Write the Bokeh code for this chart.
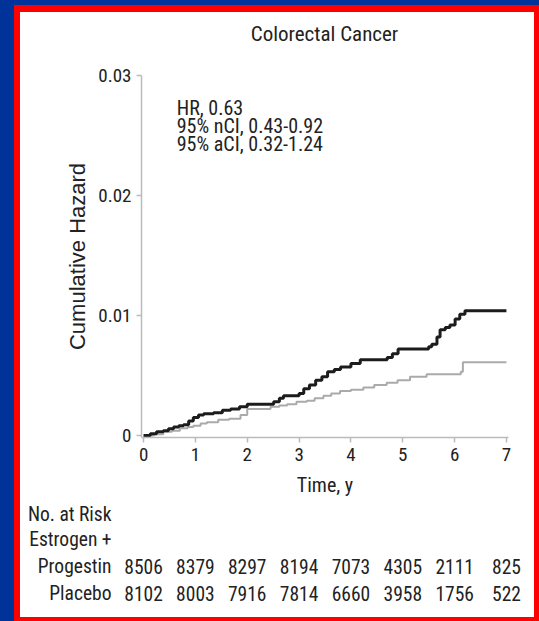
from bokeh.plotting import figure
from bokeh.models import Range1d, FixedTicker, Column
from bokeh.core.properties import value
from bokeh.embed import file_html
from bokeh.resources import INLINE

# ---------------- data ----------------
title_text = "Colorectal Cancer"
annot_lines = ["HR, 0.63", "95% nCI, 0.43-0.92", "95% aCI, 0.32-1.24"]

# Placebo (black, upper curve) cumulative hazard steps
pl_t = [0, 0.13, 0.25, 0.38, 0.48, 0.58, 0.68, 0.77, 0.87, 0.96,
        1.06, 1.16, 1.35, 1.52, 1.68, 1.85, 2.0, 2.51, 2.62, 2.7,
        3.0, 3.09, 3.2, 3.32, 3.44, 3.55, 3.68, 3.8, 4.0, 4.18,
        4.7, 4.8, 4.91, 5.5, 5.56, 5.66, 5.72, 5.82, 5.91, 6.01,
        6.1, 6.2, 7.0]
pl_v = [0, 0.00014, 0.0003, 0.0004, 0.00055, 0.0007, 0.0008, 0.0009, 0.0012, 0.0015,
        0.0017, 0.0018, 0.0019, 0.0021, 0.0022, 0.0024, 0.0026, 0.0028, 0.0031, 0.0033,
        0.0035, 0.0039, 0.0042, 0.0046, 0.0049, 0.0053, 0.0055, 0.0057, 0.0060, 0.0063,
        0.0065, 0.0068, 0.0072, 0.0074, 0.0076, 0.0082, 0.0088, 0.0090, 0.0092, 0.0097,
        0.0101, 0.0104, 0.0104]

# Estrogen + Progestin (gray, lower curve)
ep_t = [0, 0.2, 0.38, 0.55, 0.7, 0.85, 0.96, 1.1, 1.22, 1.44,
        1.65, 1.87, 2.0, 2.45, 2.62, 2.77, 2.95, 3.15, 3.3, 3.47,
        3.62, 3.79, 4.0, 4.24, 4.45, 4.69, 4.9, 5.14, 5.46, 6.12,
        6.16, 7.0]
ep_v = [0, 0.0001, 0.0003, 0.0004, 0.0006, 0.0007, 0.0008, 0.0010, 0.0011, 0.0013,
        0.0014, 0.0017, 0.0022, 0.0024, 0.0025, 0.0026, 0.0028, 0.0029, 0.0031, 0.0033,
        0.0035, 0.0037, 0.0038, 0.0040, 0.0042, 0.0044, 0.0046, 0.0049, 0.0051, 0.0053,
        0.0061, 0.0061]

years = [0, 1, 2, 3, 4, 5, 6, 7]
y_ticks = [0, 0.01, 0.02, 0.03]
y_tick_labels = ["0", "0.01", "0.02", "0.03"]

risk_rows = ["Placebo", "Progestin", "Estrogen +", "No. at Risk"]
risk_ep = [8506, 8379, 8297, 8194, 7073, 4305, 2111, 825]
risk_pl = [8102, 8003, 7916, 7814, 6660, 3958, 1756, 522]

# ---------------- style / layout ----------------
NARROW = "Roboto Condensed"
TXT = "#222222"
AXC = "#bbbbbb"
ROW_POS = [0, 1, 2, 3.1]       # vertical slots of the table rows


def plain(fig):
    fig.outline_line_color = None
    fig.background_fill_color = "white"
    fig.border_fill_color = "white"
    fig.xgrid.visible = False
    fig.ygrid.visible = False
    try:
        fig.frame_align = False
    except Exception:
        pass


# wide x extent (same scale as the chart) used by title strip and table
xr_wide = Range1d(-0.444, 7.54)

# ---- title strip ----
p0 = figure(width=514, height=50, output_backend="svg", toolbar_location=None,
            x_range=xr_wide, y_range=Range1d(0, 1),
            min_border_left=100, min_border_right=0, min_border_top=0,
            min_border_bottom=0, x_axis_location=None, y_axis_location=None)
plain(p0)
p0.text(x=[3.49], y=[0.58], text=[title_text], text_font=value(NARROW),
        text_font_size="21px", text_align="center", text_baseline="middle",
        text_color=TXT)

# ---- chart ----
p1 = figure(width=514, height=440, output_backend="svg", toolbar_location=None,
            x_range=Range1d(-0.04, 7.04), y_range=Range1d(-0.00017, 0.03),
            min_border_left=121, min_border_right=26, min_border_top=13,
            min_border_bottom=65)
plain(p1)

for ax in (p1.xaxis[0], p1.yaxis[0]):
    ax.axis_line_color = AXC
    ax.axis_line_width = 1.5
    ax.major_tick_line_color = AXC
    ax.major_tick_line_width = 1.5
    ax.major_tick_out = 5
    ax.major_tick_in = 0
    ax.minor_tick_line_color = None
    ax.major_label_text_font = NARROW
    ax.major_label_text_font_size = "19px"
    ax.major_label_text_color = TXT
    ax.axis_label_text_font_style = "normal"
    ax.axis_label_text_color = TXT

p1.xaxis.ticker = FixedTicker(ticks=years)
p1.xaxis.major_label_standoff = 5
p1.xaxis.axis_label = "Time, y"
p1.xaxis.axis_label_text_font = NARROW
p1.xaxis.axis_label_text_font_size = "20px"
p1.xaxis.axis_label_standoff = 9

p1.yaxis.ticker = FixedTicker(ticks=y_ticks)
p1.yaxis.major_label_overrides = {t: l for t, l in zip(y_ticks, y_tick_labels)}
p1.yaxis.major_label_standoff = 5
p1.yaxis.axis_label = "Cumulative Hazard"
p1.yaxis.axis_label_text_font = "Liberation Sans"
p1.yaxis.axis_label_text_font_size = "22px"
p1.yaxis.axis_label_standoff = 5

p1.step(ep_t, ep_v, mode="after", line_color="#aaaaaa", line_width=2)
p1.step(pl_t, pl_v, mode="after", line_color="#1c1c1c", line_width=3)

ann_y = [0.02733, 0.02579, 0.02425]
p1.text(x=[0.64] * 3, y=ann_y, text=annot_lines, text_font=value(NARROW),
        text_font_size="20px", text_baseline="middle", text_align="left",
        text_color=TXT)

# ---- number at risk table ----
p2 = figure(width=514, height=115, output_backend="svg", toolbar_location=None,
            x_range=xr_wide, y_range=Range1d(-0.889, 3.370),
            min_border_left=100, min_border_right=0, min_border_top=0,
            min_border_bottom=0, x_axis_location=None)
plain(p2)
p2.yaxis.ticker = FixedTicker(ticks=ROW_POS)
p2.yaxis.major_label_overrides = {pos: r for pos, r in zip(ROW_POS, risk_rows)}
p2.yaxis.axis_line_color = None
p2.yaxis.major_tick_line_color = None
p2.yaxis.minor_tick_line_color = None
p2.yaxis.major_label_standoff = 3
p2.yaxis.major_label_text_font = NARROW
p2.yaxis.major_label_text_font_size = "19.5px"
p2.yaxis.major_label_text_color = TXT

p2.text(x=years, y=[ROW_POS[1]] * len(years), text=[str(v) for v in risk_ep],
        text_font=value(NARROW), text_font_size="19.5px", text_align="center",
        text_baseline="middle", text_color=TXT)
p2.text(x=years, y=[ROW_POS[0]] * len(years), text=[str(v) for v in risk_pl],
        text_font=value(NARROW), text_font_size="19.5px", text_align="center",
        text_baseline="middle", text_color=TXT)

inner = Column(children=[p0, p1, p2], spacing=0,
               styles={"border-style": "solid", "border-color": "#ff0000",
                       "border-width": "7px 5px 4px 6px",
                       "background-color": "white"})
outer = Column(children=[inner],
               styles={"background-color": "#003399",
                       "padding": "5px 0px 0px 14px"})

open("out.html", "w").write(file_html(outer, INLINE))
